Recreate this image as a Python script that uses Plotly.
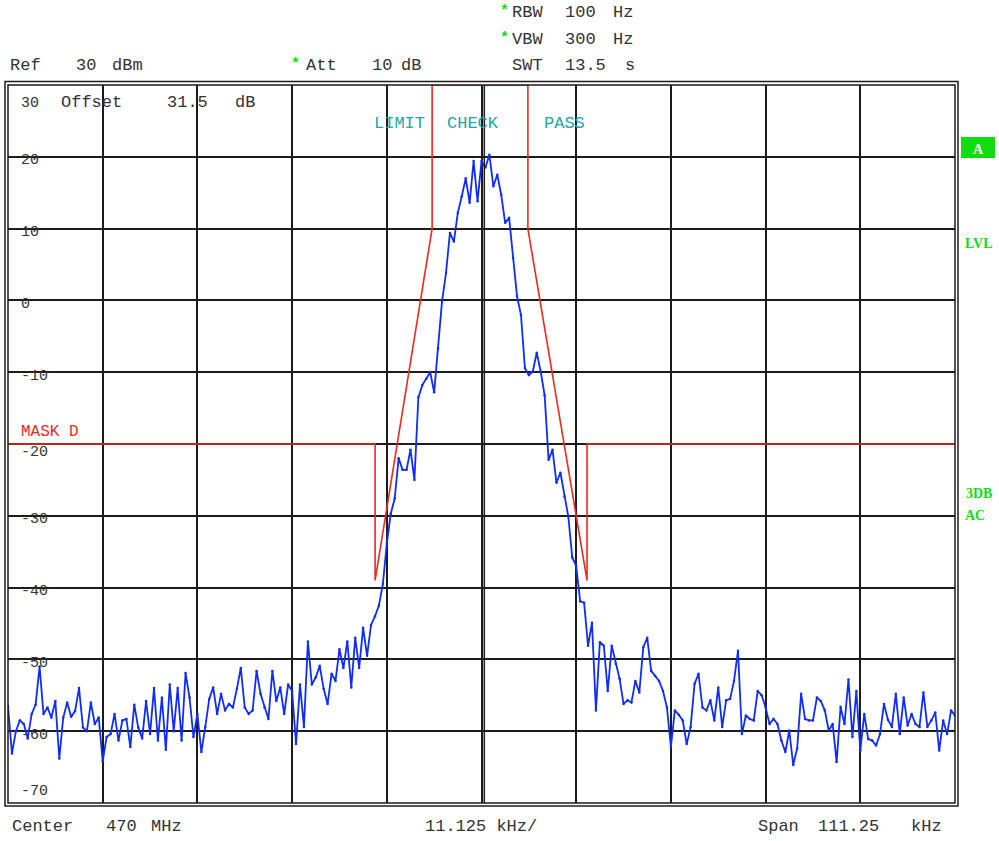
import plotly.graph_objects as go

# ---------------------------------------------------------------------------
# Spectrum analyzer sweep: centre 470 MHz, span 111.25 kHz, 241 sweep points
# ---------------------------------------------------------------------------
CENTER_MHZ = 470
SPAN_KHZ = 111.25
DIV_KHZ = 11.125
REF_DBM = 30
BOTTOM_DBM = -70

# Trace levels (dBm), one list per horizontal division, left to right
levels_div0 = [-56.5, -63.1, -60.0, -58.5, -59.0, -61.0, -57.6, -56.3, -51.0, -57.6, -56.7, -58.1,
               -55.8, -63.8, -58.1, -56.0, -58.0, -57.2, -54.0, -59.5, -60.0, -56.0, -59.0, -58.1]
levels_div1 = [-64.2, -60.8, -60.4, -57.6, -61.3, -58.5, -58.3, -62.2, -56.3, -59.5, -61.0, -55.8,
               -60.4, -54.0, -61.3, -55.3, -62.6, -53.5, -60.0, -54.0, -61.3, -51.9, -55.3, -60.8]
levels_div2 = [-57.6, -62.9, -59.4, -55.5, -53.9, -57.6, -54.8, -57.1, -56.2, -56.7, -54.1, -51.2,
               -56.7, -57.6, -57.1, -51.6, -54.8, -56.7, -58.3, -51.6, -55.8, -53.9, -57.6, -53.5]
levels_div3 = [-54.4, -61.8, -53.5, -59.4, -47.5, -53.5, -52.5, -50.9, -54.1, -56.2, -52.0, -53.0,
               -48.6, -51.2, -47.5, -53.9, -47.0, -51.2, -45.6, -49.5, -45.2, -44.0, -42.5, -39.5]
levels_div4 = [-33.9, -29.7, -27.6, -22.0, -23.6, -23.6, -20.8, -25.0, -13.5, -11.8, -10.9, -10.0,
               -12.8, -6.7, -0.1, 3.8, 9.4, 8.2, 12.2, 14.5, 17.0, 13.6, 19.4, 13.8]
levels_div5 = [19.4, 18.5, 20.3, 15.9, 17.5, 14.7, 10.8, 11.5, 5.9, 0.6, -2.0, -9.4,
               -10.4, -9.9, -7.3, -9.9, -13.2, -22.2, -20.8, -25.4, -24.0, -27.3, -30.1, -35.8]
levels_div6 = [-37.0, -41.9, -42.1, -48.1, -44.9, -57.1, -47.6, -48.1, -54.4, -48.1, -50.6, -52.7,
               -56.2, -55.7, -56.0, -53.0, -54.6, -48.3, -47.0, -51.6, -52.3, -53.0, -54.4, -56.7]
levels_div7 = [-62.2, -57.1, -57.7, -58.5, -61.8, -59.4, -53.4, -52.0, -56.7, -57.1, -55.7, -58.5,
               -53.9, -59.4, -55.7, -55.5, -53.0, -48.8, -60.4, -57.8, -58.3, -58.5, -54.4, -55.0]
levels_div8 = [-56.7, -59.0, -58.3, -59.0, -61.3, -62.9, -59.9, -64.7, -62.4, -54.8, -58.3, -58.5,
               -58.5, -55.3, -55.8, -57.1, -59.9, -59.0, -64.3, -56.6, -59.0, -52.8, -60.8, -54.4]
levels_div9 = [-62.7, -57.6, -61.1, -61.3, -62.0, -60.4, -56.2, -58.4, -59.4, -54.8, -60.4, -55.3,
               -59.2, -57.6, -59.0, -59.4, -54.6, -59.4, -58.5, -57.4, -62.7, -58.5, -60.4, -57.1, -57.8]

# Limit line "MASK D" (frequency offset kHz, level dBm)
mask_khz = [-55.625, -12.5, -12.5, -5.8, -5.8, 5.45, 5.45, 12.4, 12.4, 55.625]
mask_dbm = [-20, -20, -39, 10, 30, 30, 10, -39, -20, -20]

y_ticks = [30, 20, 10, 0, -10, -20, -30, -40, -50, -60, -70]

trace_dbm = (levels_div0 + levels_div1 + levels_div2 + levels_div3 + levels_div4 +
             levels_div5 + levels_div6 + levels_div7 + levels_div8 + levels_div9)
n_pts = len(trace_dbm)
sweep_khz = [-SPAN_KHZ / 2 + i * SPAN_KHZ / (n_pts - 1) for i in range(n_pts)]

# ---------------------------------------------------------------------------
W, H = 999, 841
ML, MR, MT, MB = 8, 44, 85, 38
PW, PH = W - ML - MR, H - MT - MB

MONO = "Liberation Mono"
SERIF = "Liberation Serif"
GRID = "#1c1c1c"
TEXT = "#333333"
GREEN = "#10dd10"
TEAL = "#22a6a6"
RED = "#f0281c"
BLUE = "#0f2cff"


def px(x):
    return (x - ML) / PW


def py(y):
    return (H - MB - y) / PH


fig = go.Figure()

fig.add_trace(go.Scatter(
    x=mask_khz, y=mask_dbm, mode="lines",
    line=dict(color=RED, width=1.6), hoverinfo="skip", showlegend=False,
))
fig.add_trace(go.Scatter(
    x=sweep_khz, y=trace_dbm, mode="lines+markers",
    line=dict(color=BLUE, width=1.8), marker=dict(color=BLUE, size=2.5),
    showlegend=False,
))

annotations = []


def label(x, y, text, color=TEXT, size=17, family=MONO, anchor="left", bold=False):
    annotations.append(dict(
        xref="paper", yref="paper", x=px(x), y=py(y), text=f"<b>{text}</b>" if bold else text,
        showarrow=False, xanchor=anchor, yanchor="middle",
        font=dict(family=family, size=size, color=color),
    ))


# header
label(498, 12, "*", color=GREEN, size=15, bold=True)
label(510, 13, "RBW", size=17)
label(563, 13, "100", size=17)
label(611, 13, "Hz", size=17)
label(498, 38, "*", color=GREEN, size=15, bold=True)
label(510, 39, "VBW", size=17)
label(563, 39, "300", size=17)
label(611, 39, "Hz", size=17)
label(510, 66, "SWT", size=17)
label(563, 66, "13.5", size=17)
label(623, 66, "s", size=17)
label(8, 66, "Ref", size=17)
label(74, 66, "30", size=17)
label(110, 66, "dBm", size=17)
label(289, 65, "*", color=GREEN, size=15, bold=True)
label(304, 66, "Att", size=17)
label(370, 66, "10", size=17)
label(399, 66, "dB", size=17)

# inside the graticule
label(59, 103, "Offset", size=17)
label(165, 103, "31.5", size=17)
label(233, 103, "dB", size=17)
label(372, 124, "LIMIT", color=TEAL, size=17)
label(445, 124, "CHECK", color=TEAL, size=17)
label(542, 124, "PASS", color=TEAL, size=17)
label(19, 432, "MASK D", color=RED, size=16)

# right-hand status column
label(963, 243, "LVL", color=GREEN, size=14, family=SERIF, bold=True)
label(964, 493, "3DB", color=GREEN, size=14, family=SERIF, bold=True)
label(963, 515, "AC", color=GREEN, size=14, family=SERIF, bold=True)
label(978, 149, "A", color="white", size=14, family=SERIF, anchor="center", bold=True)

# footer
label(10, 826, "Center", size=17)
label(104, 826, "470", size=17)
label(149, 826, "MHz", size=17)
label(481, 826, f"{DIV_KHZ:.3f} kHz/", size=17, anchor="center")
label(756, 826, "Span", size=17)
label(816, 826, f"{SPAN_KHZ:.2f}", size=17)
label(909, 826, "kHz", size=17)

# level scale labels inside the left edge
for v in y_ticks:
    shift = -4
    if v == REF_DBM:
        shift = -18
    elif v == BOTTOM_DBM:
        shift = 12
    elif v == -20:
        shift = -8
    annotations.append(dict(
        xref="paper", yref="y", x=px(19), y=v, yshift=shift, text=str(v),
        showarrow=False, xanchor="left", yanchor="middle",
        font=dict(family=MONO, size=15, color=TEXT),
    ))

shapes = [
    # double frame
    dict(type="rect", xref="paper", yref="paper", x0=0, x1=1, y0=0, y1=1,
         line=dict(color=GRID, width=1.5)),
    dict(type="rect", xref="paper", yref="paper", x0=px(5), x1=px(958), y0=py(806), y1=py(81.5),
         line=dict(color=GRID, width=1.5)),
    # centre-frequency double line
    dict(type="line", xref="x", yref="paper", x0=0.33, x1=0.33, y0=0, y1=1,
         line=dict(color=GRID, width=1.5)),
    # status box "A"
    dict(type="rect", xref="paper", yref="paper", x0=px(961), x1=px(995), y0=py(158), y1=py(137),
         fillcolor=GREEN, line=dict(width=0)),
]

fig.update_layout(
    width=W, height=H,
    margin=dict(l=ML, r=MR, t=MT, b=MB),
    paper_bgcolor="white", plot_bgcolor="white",
    showlegend=False,
    xaxis=dict(range=[-SPAN_KHZ / 2, SPAN_KHZ / 2], dtick=DIV_KHZ, tick0=0,
               showgrid=True, gridcolor=GRID, gridwidth=1.5, zeroline=False,
               showticklabels=False, ticks="", fixedrange=True),
    yaxis=dict(range=[BOTTOM_DBM, REF_DBM], dtick=10, tick0=0,
               showgrid=True, gridcolor=GRID, gridwidth=1.5, zeroline=False,
               showticklabels=False, ticks="", fixedrange=True),
    annotations=annotations,
    shapes=shapes,
)

fig.write_html("out.html")
